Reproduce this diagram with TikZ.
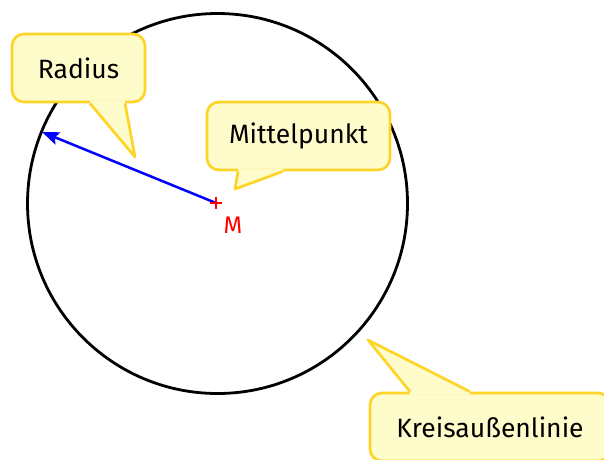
\documentclass[tikz,border=0pt]{standalone}
\usepackage{fontspec}
\setmainfont{Fira Sans}
\usetikzlibrary{calc, positioning, arrows.meta}
\definecolor{calloutfill}{RGB}{255,252,204}
\definecolor{calloutline}{RGB}{255,212,40}

\begin{document}
\begin{tikzpicture}[x=1pt,y=-1pt,
    callout/.style={draw=calloutline,fill=calloutfill,line width=2.7pt,rounded corners=12pt,inner sep=0pt,minimum height=68pt,font=\fontsize{26.5}{30}\selectfont},
    pointer/.style={draw=calloutline,line width=2.7pt,line join=round},
    ]
    \useasboundingbox (0,0) rectangle (604,459);

    % Kreis mit Mittelpunkt
    \coordinate (M) at (216,203);
    \coordinate (rim) at (42,132);
    \draw[line width=2.8pt] (217.5,203.5) circle[radius=190pt];
    \draw[blue,line width=2.5pt,-{Stealth[length=17pt,width=13pt,inset=3pt]}] (M) -- (rim);
    \draw[red,line width=2.8pt] ($(M)+(-6,0)$) -- ($(M)+(6,0)$) ($(M)+(0,-6)$) -- ($(M)+(0,6)$);
    \node[red,font=\fontsize{24}{28}\selectfont] (mlabel) at (233,225) {M};

    % Sprechblasen
    \node[callout,minimum width=133pt] (radius) at (78.5,68) {Radius};
    \coordinate (radiusL) at ([xshift=11.5pt]radius.south);
    \coordinate (radiusR) at ([xshift=46.5pt]radius.south);
    \coordinate (radiustip) at (135,157);
    \fill[calloutfill] (radiusL) -- ++(0,-3) -- ($(radiusR)+(0,-3)$) -- (radiusR) -- (radiustip) -- cycle;
    \draw[pointer] (radiusL) -- (radiustip) -- (radiusR);

    \node[callout,minimum width=183pt] (mitte) at (298.5,136) {Mittelpunkt};
    \coordinate (mitteL) at ([xshift=-60.5pt]mitte.south);
    \coordinate (mitteR) at ([xshift=-15.5pt]mitte.south);
    \coordinate (mittetip) at (235,189);
    \fill[calloutfill] (mitteL) -- ++(0,-3) -- ($(mitteR)+(0,-3)$) -- (mitteR) -- (mittetip) -- cycle;
    \draw[pointer] (mitteL) -- (mittetip) -- (mitteR);

    \node[callout,minimum width=240pt] (kreis) at (490,427) {Kreisaußenlinie};
    \coordinate (kreisL) at ([xshift=-80pt]kreis.north);
    \coordinate (kreisR) at ([xshift=-20pt]kreis.north);
    \coordinate (kreistip) at (368,340);
    \fill[calloutfill] (kreisL) -- ++(0,3) -- ($(kreisR)+(0,3)$) -- (kreisR) -- (kreistip) -- cycle;
    \draw[pointer] (kreisL) -- (kreistip) -- (kreisR);
\end{tikzpicture}
\end{document}
